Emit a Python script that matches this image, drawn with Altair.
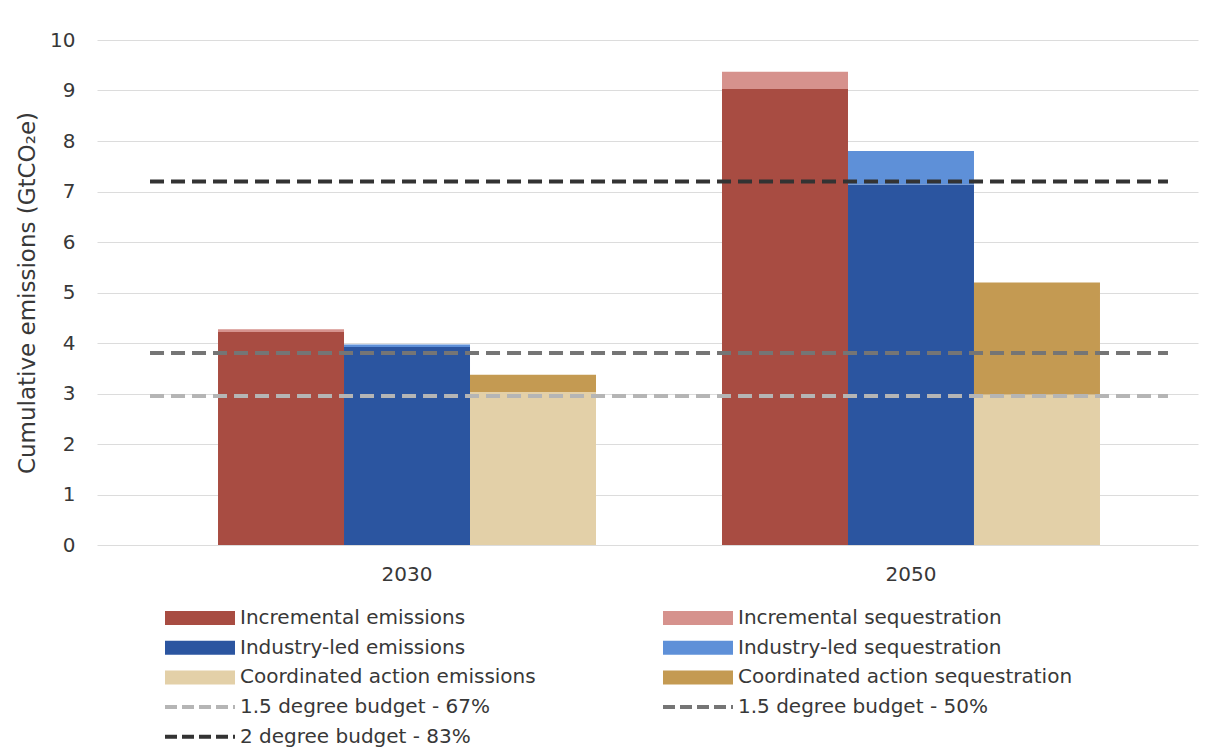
import altair as alt
import pandas as pd

# ---- data ----
years = ["2030", "2050"]
scenarios = ["Incremental", "Industry-led", "Coordinated action"]
emission_labels = ["Incremental emissions", "Industry-led emissions", "Coordinated action emissions"]
sequestration_labels = ["Incremental sequestration", "Industry-led sequestration", "Coordinated action sequestration"]
emissions_2030 = [4.22, 3.92, 3.03]
sequestration_2030 = [0.05, 0.05, 0.34]
emissions_2050 = [9.03, 7.14, 2.98]
sequestration_2050 = [0.34, 0.66, 2.22]
emission_colors = ["#a84c42", "#2b55a0", "#e3d0a8"]
sequestration_colors = ["#d6928d", "#5e90d8", "#c49a52"]

budget_left_labels = ["1.5 degree budget - 67%", "2 degree budget - 83%"]
budget_left_values = [2.95, 7.2]
budget_left_colors = ["#b5b5b5", "#333333"]
budget_right_labels = ["1.5 degree budget - 50%"]
budget_right_values = [3.8]
budget_right_colors = ["#757575"]

y_ticks = list(range(0, 11))
y_title = "Cumulative emissions (GtCO₂e)"

# ---- tables ----
rows = []
for year, em, sq in zip(years, [emissions_2030, emissions_2050], [sequestration_2030, sequestration_2050]):
    for i, s in enumerate(scenarios):
        rows.append(dict(year=year, scenario=s, e_label=emission_labels[i],
                         s_label=sequestration_labels[i], emissions=em[i], sequestration=sq[i]))
bars_df = pd.DataFrame(rows)
left_df = pd.DataFrame({"label": budget_left_labels, "value": budget_left_values,
                        "start": years[0], "end": years[-1]})
right_df = pd.DataFrame({"label": budget_right_labels, "value": budget_right_values,
                         "start": years[0], "end": years[-1]})

FONT = "DejaVu Sans"
TXT = "#383838"
FS = 20

x_scale = alt.Scale(domain=years, paddingInner=0.25, paddingOuter=0.2173, align=0.5525)
x_axis = alt.Axis(domain=False, ticks=False, grid=False, labelAngle=0, labelFont=FONT,
                  labelFontSize=FS, labelColor=TXT, labelPadding=19)
y_scale = alt.Scale(domain=[0, 10], nice=False)
y_axis = alt.Axis(values=y_ticks, domain=False, ticks=False, grid=True, gridColor="#dcdcdc",
                  gridWidth=1, labelFont=FONT, labelFontSize=FS, labelColor=TXT, labelPadding=22,
                  titleFont=FONT, titleFontSize=23, titleColor=TXT, titleFontWeight="normal",
                  titlePadding=10)
xoff = alt.XOffset("scenario:N", scale=alt.Scale(domain=scenarios, paddingInner=0, paddingOuter=0))

# wide flat rectangle / dashed line as legend symbols (size 196 -> unit of 7 px)
bar_path = "M-1,-1H9V1H-1Z"
line_path = "M-1,0H9"


def fill_legend(x, y):
    return alt.Legend(title=None, orient="none", legendX=x, legendY=y, symbolType=bar_path,
                      symbolSize=196, symbolStrokeWidth=0, labelFont=FONT, labelFontSize=FS,
                      labelColor=TXT, labelOffset=58, rowPadding=9.7, padding=0, labelLimit=600,
                      symbolOpacity=1)


def stroke_legend(x, y):
    return alt.Legend(title=None, orient="none", legendX=x, legendY=y, symbolType=line_path,
                      symbolSize=196, symbolStrokeWidth=4, symbolDash=[12, 5], labelFont=FONT,
                      labelFontSize=FS, labelColor=TXT, labelOffset=58, rowPadding=9.7, padding=0,
                      labelLimit=600)


em_bars = alt.Chart(bars_df).mark_bar().encode(
    x=alt.X("year:N", scale=x_scale, axis=x_axis, title=None),
    xOffset=xoff,
    y=alt.Y("emissions:Q", scale=y_scale, axis=y_axis, title=y_title, stack=None),
    fill=alt.Fill("e_label:N", scale=alt.Scale(domain=emission_labels, range=emission_colors),
                  legend=fill_legend(65, 568)),
)

sq_bars = alt.Chart(bars_df).transform_calculate(
    total="datum.emissions + datum.sequestration"
).mark_bar().encode(
    x=alt.X("year:N", scale=x_scale, axis=x_axis, title=None),
    xOffset=xoff,
    y=alt.Y("emissions:Q", scale=y_scale, axis=y_axis, title=y_title),
    y2="total:Q",
    fill=alt.Fill("s_label:N", scale=alt.Scale(domain=sequestration_labels, range=sequestration_colors),
                  legend=fill_legend(563, 568)),
)


def rules(df, labels, colors, lx, ly):
    return alt.Chart(df).mark_rule(strokeWidth=4, strokeDash=[14, 7], xOffset=-68, x2Offset=68).encode(
        x=alt.X("start:N", scale=x_scale, axis=x_axis, title=None, bandPosition=0),
        x2=alt.X2("end", bandPosition=1),
        y=alt.Y("value:Q", scale=y_scale, axis=y_axis, title=y_title),
        stroke=alt.Stroke("label:N", scale=alt.Scale(domain=labels, range=colors),
                          legend=stroke_legend(lx, ly)),
    )


left_rules = rules(left_df, budget_left_labels, budget_left_colors, 65, 657)
right_rules = rules(right_df, budget_right_labels, budget_right_colors, 563, 657)

chart = alt.layer(em_bars, sq_bars, left_rules, right_rules).resolve_scale(
    fill="independent", stroke="independent"
).properties(
    width=1101, height=505,
    autosize=alt.AutoSizeParams(type="none"),
    padding={"left": 89, "top": 32, "right": 25, "bottom": 203},
).configure_view(strokeWidth=0)

chart.save("out.html", embed_options={"renderer": "svg", "actions": False})
